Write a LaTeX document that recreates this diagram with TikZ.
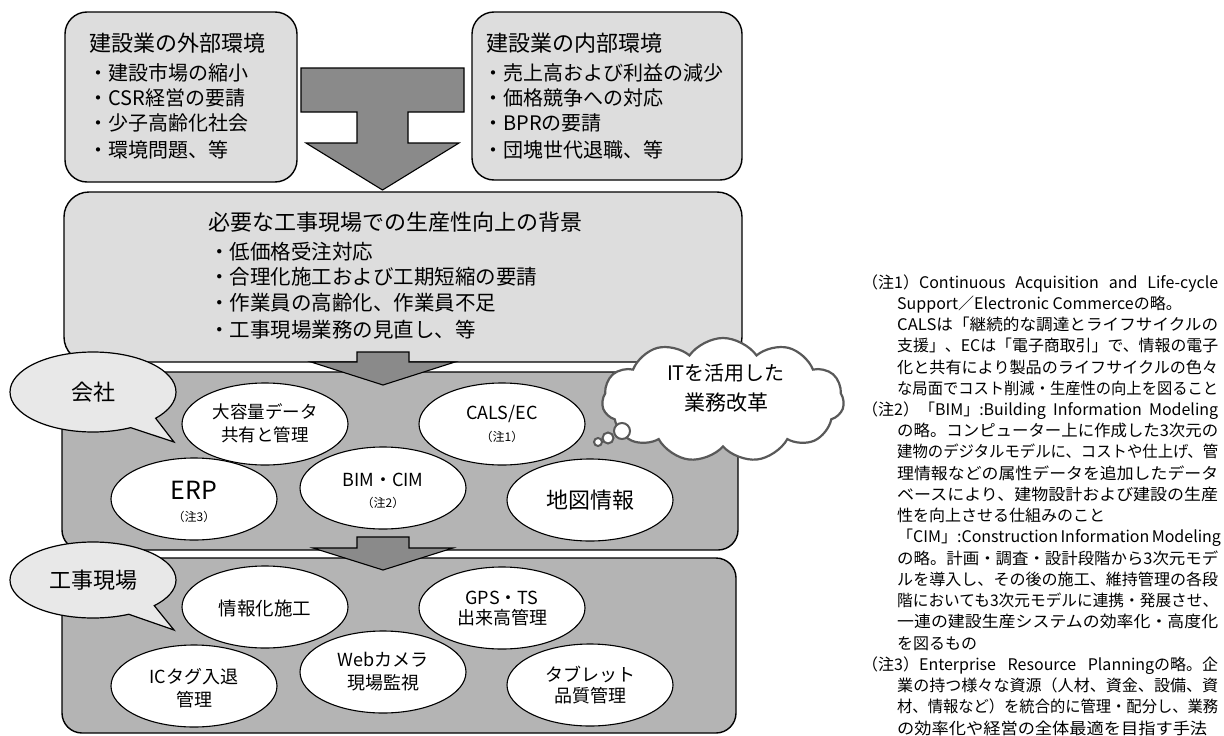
\documentclass[tikz,border=0pt]{standalone}
\usepackage{fontspec}
\setmainfont{Noto Sans CJK JP}
\usepackage{graphicx}
\usetikzlibrary{shapes.geometric,shapes.symbols,shapes.callouts}
\definecolor{lightbox}{RGB}{221,221,221}
\definecolor{midbox}{RGB}{180,180,180}
\definecolor{arrowfill}{RGB}{138,138,138}
\definecolor{calloutfill}{RGB}{232,232,232}
\definecolor{cloudline}{RGB}{89,89,89}
\newcommand\fsz[1]{\fontsize{#1}{#1}\selectfont}
\newsavebox\fitsb
\newdimen\fitdim
\newcommand\fitto[2]{\sbox\fitsb{#2}\fitdim=\wd\fitsb\relax\pgfmathsetmacro\fitratio{#1/\fitdim}\scalebox{\fitratio}[1]{\usebox\fitsb}}
\begin{document}
\begin{tikzpicture}[x=1pt,y=-1pt,
  box/.style={draw=black, line width=1.4pt},
  ell/.style={ellipse, draw=black, line width=1.1pt, fill=white, minimum width=166pt, minimum height=82pt, inner sep=0pt},
  lbl/.style={anchor=base, inner sep=0pt},
  lblw/.style={anchor=base west, inner sep=0pt},
  blockarrow/.style={draw=black, line width=1.1pt, fill=arrowfill, line join=miter},
  note/.style={anchor=base west, inner sep=0pt, font=\fsz{16}},
  callbox/.style={ellipse callout, draw=black, line width=1.2pt, fill=calloutfill, minimum width=166pt, inner sep=0pt, callout pointer arc=22, font=\fsz{22}},
  bubble/.style={circle, draw=cloudline, line width=2pt, fill=white, inner sep=0pt},
]
\useasboundingbox (0,0) rectangle (1224,736);

% big T arrow
\draw[blockarrow] (301,68) -- (464,68) -- (464,112) -- (408,112) -- (408,143) -- (459,143) -- (382.5,190) -- (306,143) -- (357,143) -- (357,112) -- (301,112) -- cycle;

% top boxes
\draw[box, fill=lightbox, rounded corners=22pt] (65,12) rectangle (297,182);
\draw[box, fill=lightbox, rounded corners=22pt] (472,12) rectangle (742,180);

\node[lblw, font=\fsz{22}] (exth) at (89,51.4) {建設業の外部環境};
\node[lblw, font=\fsz{20}] (ext1) at (88,80.6) {・建設市場の縮小};
\node[lblw, font=\fsz{20}] (ext2) at (88,105.6) {・CSR経営の要請};
\node[lblw, font=\fsz{20}] (ext3) at (88,130.6) {・少子高齢化社会};
\node[lblw, font=\fsz{20}] (ext4) at (88,157.6) {・環境問題、等};

\node[lblw, font=\fsz{22}] (inth) at (486,51.4) {建設業の内部環境};
\node[lblw, font=\fsz{20}] (int1) at (483,80.6) {・売上高および利益の減少};
\node[lblw, font=\fsz{20}] (int2) at (483,105.6) {・価格競争への対応};
\node[lblw, font=\fsz{20}] (int3) at (483,130.6) {・BPRの要請};
\node[lblw, font=\fsz{20}] (int4) at (483,157.6) {・団塊世代退職、等};

% middle box
\draw[box, fill=lightbox, rounded corners=25pt] (64,192) rectangle (742,362);
\node[lblw, font=\fsz{22}] (midh) at (208,230.4) {必要な工事現場での生産性向上の背景};
\node[lblw, font=\fsz{20.5}] (mid1) at (209,259.8) {・低価格受注対応};
\node[lblw, font=\fsz{20.5}] (mid2) at (209,284.8) {・合理化施工および工期短縮の要請};
\node[lblw, font=\fsz{20.5}] (mid3) at (209,310.8) {・作業員の高齢化、作業員不足};
\node[lblw, font=\fsz{20.5}] (mid4) at (209,337.8) {・工事現場業務の見直し、等};

% company and site boxes
\draw[box, fill=midbox, rounded corners=20pt] (62,372) rectangle (738,550);
\draw[box, fill=midbox, rounded corners=20pt] (62,558) rectangle (736,733);

% small arrows
\draw[blockarrow] (357,352) -- (409,352) -- (409,362) -- (455,362) -- (383,385) -- (311,362) -- (357,362) -- cycle;
\draw[blockarrow] (357,537) -- (409,537) -- (409,548) -- (453,548) -- (383,570) -- (313,548) -- (357,548) -- cycle;

% company ellipses
\node[ell] (e1) at (265,424) {};
\node[ell] (e2) at (502,424) {};
\node[ell] (e3) at (194,499) {};
\node[ell] (e4) at (383,488) {};
\node[ell] (e5) at (590,500) {};
\node[lbl, font=\fsz{17.5}] (e1a) at (265,418.7) {大容量データ};
\node[lbl, font=\fsz{17.5}] (e1b) at (265,441.7) {共有と管理};
\node[lbl, font=\fsz{18}] (e2a) at (502,419.6) {CALS/EC};
\node[lbl, font=\fsz{12}] (e2b) at (502,441.6) {（注1）};
\node[lbl, font=\fsz{25}] (e3a) at (194,499) {ERP};
\node[lbl, font=\fsz{12}] (e3b) at (194,521.6) {（注3）};
\node[lbl, font=\fsz{18}] (e4a) at (383,486.6) {BIM・CIM};
\node[lbl, font=\fsz{12}] (e4b) at (383,507.6) {（注2）};
\node[lbl, font=\fsz{22}] (e5a) at (590,508.4) {地図情報};

% site ellipses
\node[ell] (f1) at (265,607) {};
\node[ell] (f2) at (502,608) {};
\node[ell] (f3) at (194,686) {};
\node[ell] (f4) at (383,672) {};
\node[ell] (f5) at (590,685) {};
\node[lbl, font=\fsz{18.5}] (f1a) at (265,615) {情報化施工};
\node[lbl, font=\fsz{18}] (f2a) at (502,604.6) {GPS・TS};
\node[lbl, font=\fsz{18}] (f2b) at (502,624.8) {出来高管理};
\node[lbl, font=\fsz{18}] (f3a) at (194,683.8) {ICタグ入退};
\node[lbl, font=\fsz{18}] (f3b) at (194,706.8) {管理};
\node[lbl, font=\fsz{18}] (f4a) at (383,666.8) {Webカメラ};
\node[lbl, font=\fsz{18}] (f4b) at (383,689.8) {現場監視};
\node[lbl, font=\fsz{18}] (f5a) at (590,681.8) {タブレット};
\node[lbl, font=\fsz{18}] (f5b) at (590,702.8) {品質管理};

% callouts
\node[callbox, minimum height=80pt, callout absolute pointer={(174,442)}] (kaisha) at (93,392) {会社};
\node[callbox, minimum height=76pt, callout absolute pointer={(174,630)}] (genba) at (93,580) {工事現場};

% cloud
\node[cloud, cloud puffs=11, cloud puff arc=110, aspect=2.0, draw=cloudline, line width=2.2pt, fill=white, minimum width=242pt, minimum height=124pt, inner sep=0pt] (cloud) at (723,400) {};
\node[bubble, minimum size=16pt] (b1) at (622,431) {};
\node[bubble, minimum size=11pt] (b2) at (608,438) {};
\node[bubble, minimum size=8pt] (b3) at (598,442) {};
\node[lbl, font=\fsz{20}] (c1) at (726,380.6) {ITを活用した};
\node[lbl, font=\fsz{21}] (c2) at (726,410) {業務改革};

% notes
\node[note] (n1) at (862,288.0) {\makebox[356pt][s]{（注1）Continuous Acquisition and Life-cycle}};
\node[note] (n2) at (897,309.2) {Support／Electronic Commerceの略。};
\node[note] (n3) at (897,330.5) {\fitto{321}{CALSは「継続的な調達とライフサイクルの}};
\node[note] (n4) at (897,351.7) {\fitto{321}{支援」、ECは「電子商取引」で、情報の電子}};
\node[note] (n5) at (897,373.0) {\fitto{321}{化と共有により製品のライフサイクルの色々}};
\node[note] (n6) at (897,394.2) {\fitto{321}{な局面でコスト削減・生産性の向上を図ること}};
\node[note] (n7) at (862,415.4) {\makebox[356pt][s]{（注2）「BIM」:Building Information Modeling}};
\node[note] (n8) at (897,436.7) {\fitto{321}{の略。コンピューター上に作成した3次元の}};
\node[note] (n9) at (897,457.9) {\fitto{321}{建物のデジタルモデルに、コストや仕上げ、管}};
\node[note] (n10) at (897,479.2) {\fitto{321}{理情報などの属性データを追加したデータ}};
\node[note] (n11) at (897,500.4) {\fitto{321}{ベースにより、建物設計および建設の生産}};
\node[note] (n12) at (897,521.6) {性を向上させる仕組みのこと};
\node[note] (n13) at (897,542.9) {\makebox[321pt][s]{「CIM」:Construction Information Modeling}};
\node[note] (n14) at (897,564.1) {\fitto{321}{の略。計画・調査・設計段階から3次元モデ}};
\node[note] (n15) at (897,585.4) {\fitto{321}{ルを導入し、その後の施工、維持管理の各段}};
\node[note] (n16) at (897,606.6) {\fitto{321}{階においても3次元モデルに連携・発展させ、}};
\node[note] (n17) at (897,627.8) {\fitto{321}{一連の建設生産システムの効率化・高度化}};
\node[note] (n18) at (897,649.1) {を図るもの};
\node[note] (n19) at (862,670.3) {\makebox[356pt][s]{（注3）Enterprise Resource Planningの略。企}};
\node[note] (n20) at (897,691.6) {\fitto{321}{業の持つ様々な資源（人材、資金、設備、資}};
\node[note] (n21) at (897,712.8) {\fitto{321}{材、情報など）を統合的に管理・配分し、業務}};
\node[note] (n22) at (897,734.0) {\fitto{310}{の効率化や経営の全体最適を目指す手法}};
\end{tikzpicture}
\end{document}
